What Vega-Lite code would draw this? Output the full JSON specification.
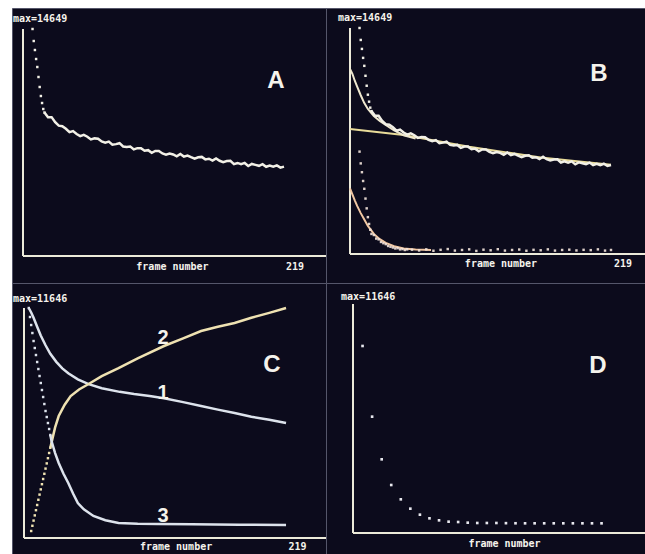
{
  "$schema": "https://vega.github.io/schema/vega-lite/v6.json",
  "background": "#ffffff",
  "padding": {"left": 11, "top": 7, "right": 0, "bottom": 0},
  "config": {
    "view": {"fill": "#0c0b1c", "stroke": "#55566a", "strokeWidth": 1}
  },
  "datasets": {
    "trace": [
      {"frame": 8, "value": 14649}, {"frame": 9, "value": 13874}, {"frame": 10, "value": 13293},
      {"frame": 11, "value": 12712}, {"frame": 12, "value": 12196}, {"frame": 13, "value": 11551},
      {"frame": 14, "value": 10906}, {"frame": 15, "value": 10325}, {"frame": 16, "value": 9873},
      {"frame": 17, "value": 9486}, {"frame": 18, "value": 9260}, {"frame": 21, "value": 8960},
      {"frame": 24, "value": 8960}, {"frame": 27, "value": 8630}, {"frame": 30, "value": 8410},
      {"frame": 33, "value": 8380}, {"frame": 36, "value": 8210}, {"frame": 39, "value": 7990},
      {"frame": 42, "value": 8060}, {"frame": 45, "value": 7870}, {"frame": 48, "value": 7740},
      {"frame": 51, "value": 7820}, {"frame": 54, "value": 7700}, {"frame": 57, "value": 7520},
      {"frame": 60, "value": 7590}, {"frame": 63, "value": 7570}, {"frame": 66, "value": 7390},
      {"frame": 69, "value": 7310}, {"frame": 72, "value": 7380}, {"frame": 75, "value": 7180},
      {"frame": 78, "value": 7220}, {"frame": 81, "value": 7280}, {"frame": 84, "value": 7070},
      {"frame": 87, "value": 7040}, {"frame": 90, "value": 7070}, {"frame": 93, "value": 6880},
      {"frame": 96, "value": 6960}, {"frame": 99, "value": 6960}, {"frame": 102, "value": 6790},
      {"frame": 105, "value": 6830}, {"frame": 108, "value": 6660}, {"frame": 111, "value": 6780},
      {"frame": 114, "value": 6780}, {"frame": 117, "value": 6620}, {"frame": 120, "value": 6540},
      {"frame": 123, "value": 6615}, {"frame": 126, "value": 6555}, {"frame": 129, "value": 6435},
      {"frame": 132, "value": 6585}, {"frame": 135, "value": 6415}, {"frame": 138, "value": 6485},
      {"frame": 141, "value": 6375}, {"frame": 144, "value": 6275}, {"frame": 147, "value": 6370},
      {"frame": 150, "value": 6395}, {"frame": 153, "value": 6235}, {"frame": 156, "value": 6275},
      {"frame": 159, "value": 6155}, {"frame": 162, "value": 6300}, {"frame": 165, "value": 6145},
      {"frame": 168, "value": 6060}, {"frame": 171, "value": 6125}, {"frame": 174, "value": 6140},
      {"frame": 177, "value": 5930}, {"frame": 180, "value": 6005}, {"frame": 183, "value": 5920},
      {"frame": 186, "value": 6005}, {"frame": 189, "value": 5810}, {"frame": 192, "value": 5940},
      {"frame": 195, "value": 5880}, {"frame": 198, "value": 5820}, {"frame": 201, "value": 5925},
      {"frame": 204, "value": 5760}, {"frame": 207, "value": 5840}, {"frame": 210, "value": 5765},
      {"frame": 213, "value": 5850}, {"frame": 216, "value": 5705}, {"frame": 219, "value": 5770}
    ],
    "slowFit": [
      {"frame": 0, "value": 8100}, {"frame": 45, "value": 7720}, {"frame": 100, "value": 6950},
      {"frame": 160, "value": 6250}, {"frame": 219, "value": 5790}
    ],
    "sumFit": [
      {"frame": 0, "value": 12000}, {"frame": 2, "value": 11680}, {"frame": 4, "value": 11230},
      {"frame": 6, "value": 10850}, {"frame": 9, "value": 10290}, {"frame": 12, "value": 9780},
      {"frame": 15, "value": 9400}, {"frame": 20, "value": 8950}, {"frame": 25, "value": 8630},
      {"frame": 30, "value": 8360}, {"frame": 37, "value": 8010}, {"frame": 45, "value": 7700},
      {"frame": 55, "value": 7480}
    ],
    "fastFit": [
      {"frame": 0, "value": 4250}, {"frame": 2, "value": 3870}, {"frame": 4, "value": 3480},
      {"frame": 6, "value": 3120}, {"frame": 9, "value": 2650}, {"frame": 12, "value": 2230},
      {"frame": 15, "value": 1820}, {"frame": 20, "value": 1300}, {"frame": 25, "value": 960},
      {"frame": 30, "value": 720}, {"frame": 37, "value": 500}, {"frame": 45, "value": 360},
      {"frame": 55, "value": 290}, {"frame": 68, "value": 260}
    ],
    "fastResidual": [
      {"frame": 8, "value": 6636}, {"frame": 9, "value": 5872}, {"frame": 10, "value": 5302},
      {"frame": 11, "value": 4732}, {"frame": 12, "value": 4226}, {"frame": 13, "value": 3592},
      {"frame": 14, "value": 2958}, {"frame": 15, "value": 2388}, {"frame": 16, "value": 1947},
      {"frame": 17, "value": 1571}, {"frame": 18, "value": 1300}, {"frame": 20, "value": 1230},
      {"frame": 22, "value": 1000}, {"frame": 24, "value": 950}, {"frame": 26, "value": 780},
      {"frame": 28, "value": 700}, {"frame": 30, "value": 640}, {"frame": 32, "value": 520},
      {"frame": 34, "value": 470}, {"frame": 36, "value": 420}, {"frame": 38, "value": 360},
      {"frame": 40, "value": 380}, {"frame": 42, "value": 300}, {"frame": 44, "value": 320},
      {"frame": 46, "value": 260}, {"frame": 48, "value": 300}, {"frame": 52, "value": 280},
      {"frame": 58, "value": 230}, {"frame": 64, "value": 300}, {"frame": 70, "value": 210},
      {"frame": 76, "value": 270}, {"frame": 82, "value": 320}, {"frame": 88, "value": 220},
      {"frame": 94, "value": 260}, {"frame": 100, "value": 300}, {"frame": 106, "value": 200},
      {"frame": 112, "value": 280}, {"frame": 118, "value": 240}, {"frame": 124, "value": 310},
      {"frame": 130, "value": 220}, {"frame": 136, "value": 260}, {"frame": 142, "value": 290},
      {"frame": 148, "value": 210}, {"frame": 154, "value": 270}, {"frame": 160, "value": 240},
      {"frame": 166, "value": 300}, {"frame": 172, "value": 220}, {"frame": 178, "value": 260},
      {"frame": 184, "value": 280}, {"frame": 190, "value": 230}, {"frame": 196, "value": 270},
      {"frame": 202, "value": 250}, {"frame": 208, "value": 300}, {"frame": 214, "value": 220},
      {"frame": 219, "value": 260}
    ],
    "curve1": [
      {"frame": 4, "value": 11646}, {"frame": 6, "value": 11420}, {"frame": 8, "value": 11150},
      {"frame": 11, "value": 10700}, {"frame": 14, "value": 10250}, {"frame": 18, "value": 9760},
      {"frame": 22, "value": 9330}, {"frame": 27, "value": 8920}, {"frame": 32, "value": 8590},
      {"frame": 37, "value": 8340}, {"frame": 45, "value": 8030}, {"frame": 54, "value": 7790},
      {"frame": 65, "value": 7580}, {"frame": 80, "value": 7400}, {"frame": 92, "value": 7290},
      {"frame": 105, "value": 7190}, {"frame": 117, "value": 7080}, {"frame": 133, "value": 6880},
      {"frame": 148, "value": 6680}, {"frame": 162, "value": 6500}, {"frame": 176, "value": 6330},
      {"frame": 190, "value": 6140}, {"frame": 205, "value": 5990}, {"frame": 219, "value": 5820}
    ],
    "curve2": [
      {"frame": 6, "value": 354}, {"frame": 7, "value": 618}, {"frame": 8, "value": 881},
      {"frame": 9, "value": 1144}, {"frame": 10, "value": 1408}, {"frame": 11, "value": 1671},
      {"frame": 12, "value": 1934}, {"frame": 13, "value": 2197}, {"frame": 14, "value": 2461},
      {"frame": 15, "value": 2724}, {"frame": 16, "value": 2987}, {"frame": 17, "value": 3250},
      {"frame": 18, "value": 3514}, {"frame": 19, "value": 3777}, {"frame": 20, "value": 4040},
      {"frame": 21, "value": 4304}, {"frame": 22, "value": 4567}, {"frame": 23, "value": 4830},
      {"frame": 26, "value": 5600}, {"frame": 29, "value": 6177}, {"frame": 34, "value": 6750},
      {"frame": 39, "value": 7189}, {"frame": 46, "value": 7520}, {"frame": 54, "value": 7797},
      {"frame": 65, "value": 8200}, {"frame": 79, "value": 8607}, {"frame": 95, "value": 9100},
      {"frame": 117, "value": 9721}, {"frame": 133, "value": 10110}, {"frame": 148, "value": 10480},
      {"frame": 162, "value": 10700}, {"frame": 176, "value": 10885}, {"frame": 190, "value": 11150},
      {"frame": 205, "value": 11400}, {"frame": 219, "value": 11646}
    ],
    "curve3": [
      {"frame": 4, "value": 11646}, {"frame": 5, "value": 11190}, {"frame": 6, "value": 10784},
      {"frame": 7, "value": 10379}, {"frame": 8, "value": 9974}, {"frame": 9, "value": 9620},
      {"frame": 10, "value": 9265}, {"frame": 11, "value": 8911}, {"frame": 12, "value": 8556},
      {"frame": 13, "value": 8202}, {"frame": 14, "value": 7848}, {"frame": 15, "value": 7493},
      {"frame": 16, "value": 7139}, {"frame": 17, "value": 6784}, {"frame": 18, "value": 6430},
      {"frame": 19, "value": 6126}, {"frame": 20, "value": 5822}, {"frame": 21, "value": 5519},
      {"frame": 22, "value": 5215}, {"frame": 23, "value": 4911}, {"frame": 26, "value": 4300},
      {"frame": 29, "value": 3797}, {"frame": 33, "value": 3250}, {"frame": 37, "value": 2785},
      {"frame": 41, "value": 2250}, {"frame": 45, "value": 1772}, {"frame": 50, "value": 1450},
      {"frame": 58, "value": 1114}, {"frame": 68, "value": 900}, {"frame": 79, "value": 759},
      {"frame": 95, "value": 720}, {"frame": 112, "value": 709}, {"frame": 140, "value": 690},
      {"frame": 180, "value": 670}, {"frame": 219, "value": 658}
    ],
    "sampled": [
      {"frame": 8, "value": 9511}, {"frame": 16, "value": 5917}, {"frame": 24, "value": 3747},
      {"frame": 32, "value": 2441}, {"frame": 40, "value": 1712}, {"frame": 48, "value": 1237},
      {"frame": 56, "value": 932}, {"frame": 64, "value": 746}, {"frame": 72, "value": 644},
      {"frame": 80, "value": 576}, {"frame": 88, "value": 559}, {"frame": 96, "value": 525},
      {"frame": 104, "value": 509}, {"frame": 112, "value": 509}, {"frame": 120, "value": 509},
      {"frame": 128, "value": 500}, {"frame": 136, "value": 495}, {"frame": 144, "value": 492},
      {"frame": 152, "value": 492}, {"frame": 160, "value": 492}, {"frame": 168, "value": 492},
      {"frame": 176, "value": 492}, {"frame": 184, "value": 492}, {"frame": 192, "value": 492},
      {"frame": 200, "value": 492}, {"frame": 208, "value": 492}
    ],
    "one": [{"n": 1}]
  },
  "columns": 2,
  "spacing": 0,
  "bounds": "flush",
  "concat": [
    {
      "width": 314,
      "height": 275,
      "layer": [
        {"data": {"name": "one"}, "mark": {"type": "rule", "color": "#ecead9", "strokeWidth": 2},
         "encoding": {"x": {"datum": 0, "type": "quantitative", "scale": {"domain": [-9.23, 254.24], "nice": false, "zero": false}, "axis": null},
                      "y": {"datum": 0, "type": "quantitative", "scale": {"domain": [-1742, 16004], "nice": false, "zero": false}, "axis": null},
                      "y2": {"datum": 14649}}},
        {"data": {"name": "one"}, "mark": {"type": "rule", "color": "#ecead9", "strokeWidth": 2},
         "encoding": {"x": {"datum": 0, "type": "quantitative", "axis": null}, "x2": {"datum": 254.24}, "y": {"datum": 0, "type": "quantitative", "axis": null}}},
        {"data": {"name": "trace"}, "transform": [{"filter": "datum.frame >= 18"}],
         "mark": {"type": "line", "color": "#f2f0e6", "strokeWidth": 2.5},
         "encoding": {"x": {"field": "frame", "type": "quantitative", "axis": null}, "y": {"field": "value", "type": "quantitative", "axis": null}}},
        {"data": {"name": "trace"}, "transform": [{"filter": "datum.frame <= 18"}],
         "mark": {"type": "point", "shape": "square", "filled": true, "size": 6, "opacity": 1, "color": "#f2f0e6"},
         "encoding": {"x": {"field": "frame", "type": "quantitative", "axis": null}, "y": {"field": "value", "type": "quantitative", "axis": null}}},
        {"data": {"name": "one"}, "mark": {"type": "text", "text": "max=14649", "font": "DejaVu Sans Mono", "fontWeight": "bold", "fontSize": 10, "color": "#f5f3ec", "align": "left", "baseline": "middle"},
         "encoding": {"x": {"datum": -8.4, "type": "quantitative", "axis": null}, "y": {"datum": 15294, "type": "quantitative", "axis": null}}},
        {"data": {"name": "one"}, "mark": {"type": "text", "text": "frame number", "font": "DejaVu Sans Mono", "fontWeight": "bold", "fontSize": 10, "color": "#f5f3ec", "align": "center", "baseline": "middle"},
         "encoding": {"x": {"datum": 125.4, "type": "quantitative", "axis": null}, "y": {"datum": -710, "type": "quantitative", "axis": null}}},
        {"data": {"name": "one"}, "mark": {"type": "text", "text": "219", "font": "DejaVu Sans Mono", "fontWeight": "bold", "fontSize": 10, "color": "#f5f3ec", "align": "center", "baseline": "middle"},
         "encoding": {"x": {"datum": 228.2, "type": "quantitative", "axis": null}, "y": {"datum": -710, "type": "quantitative", "axis": null}}},
        {"data": {"name": "one"}, "mark": {"type": "text", "text": "A", "font": "Liberation Sans", "fontWeight": "bold", "fontSize": 24, "color": "#f5f3ec", "align": "center", "baseline": "middle"},
         "encoding": {"x": {"datum": 212.3, "type": "quantitative", "axis": null}, "y": {"datum": 11293, "type": "quantitative", "axis": null}}}
      ]
    },
    {
      "width": 320,
      "height": 275,
      "layer": [
        {"data": {"name": "one"}, "mark": {"type": "rule", "color": "#ecead9", "strokeWidth": 2},
         "encoding": {"x": {"datum": 0, "type": "quantitative", "scale": {"domain": [-20.14, 248.37], "nice": false, "zero": false}, "axis": null},
                      "y": {"datum": 0, "type": "quantitative", "scale": {"domain": [-1880, 15945], "nice": false, "zero": false}, "axis": null},
                      "y2": {"datum": 14649}}},
        {"data": {"name": "one"}, "mark": {"type": "rule", "color": "#ecead9", "strokeWidth": 2},
         "encoding": {"x": {"datum": 0, "type": "quantitative", "axis": null}, "x2": {"datum": 248.37}, "y": {"datum": 0, "type": "quantitative", "axis": null}}},
        {"data": {"name": "slowFit"}, "mark": {"type": "line", "color": "#e9dc9a", "strokeWidth": 2},
         "encoding": {"x": {"field": "frame", "type": "quantitative", "axis": null}, "y": {"field": "value", "type": "quantitative", "axis": null}}},
        {"data": {"name": "fastFit"}, "mark": {"type": "line", "color": "#f1c7a2", "strokeWidth": 2},
         "encoding": {"x": {"field": "frame", "type": "quantitative", "axis": null}, "y": {"field": "value", "type": "quantitative", "axis": null}}},
        {"data": {"name": "sumFit"}, "mark": {"type": "line", "color": "#efe8cf", "strokeWidth": 2},
         "encoding": {"x": {"field": "frame", "type": "quantitative", "axis": null}, "y": {"field": "value", "type": "quantitative", "axis": null}}},
        {"data": {"name": "trace"}, "transform": [{"filter": "datum.frame >= 18"}],
         "mark": {"type": "line", "color": "#f2f0e6", "strokeWidth": 2.5},
         "encoding": {"x": {"field": "frame", "type": "quantitative", "axis": null}, "y": {"field": "value", "type": "quantitative", "axis": null}}},
        {"data": {"name": "trace"}, "transform": [{"filter": "datum.frame <= 18"}],
         "mark": {"type": "point", "shape": "square", "filled": true, "size": 6, "opacity": 1, "color": "#f2f0e6"},
         "encoding": {"x": {"field": "frame", "type": "quantitative", "axis": null}, "y": {"field": "value", "type": "quantitative", "axis": null}}},
        {"data": {"name": "fastResidual"},
         "mark": {"type": "point", "shape": "square", "filled": true, "size": 6, "opacity": 0.9, "color": "#f3e4dc"},
         "encoding": {"x": {"field": "frame", "type": "quantitative", "axis": null}, "y": {"field": "value", "type": "quantitative", "axis": null}}},
        {"data": {"name": "one"}, "mark": {"type": "text", "text": "max=14649", "font": "DejaVu Sans Mono", "fontWeight": "bold", "fontSize": 10, "color": "#f5f3ec", "align": "left", "baseline": "middle"},
         "encoding": {"x": {"datum": -10.07, "type": "quantitative", "axis": null}, "y": {"datum": 15297, "type": "quantitative", "axis": null}}},
        {"data": {"name": "one"}, "mark": {"type": "text", "text": "frame number", "font": "DejaVu Sans Mono", "fontWeight": "bold", "fontSize": 10, "color": "#f5f3ec", "align": "center", "baseline": "middle"},
         "encoding": {"x": {"datum": 126.7, "type": "quantitative", "axis": null}, "y": {"datum": -649, "type": "quantitative", "axis": null}}},
        {"data": {"name": "one"}, "mark": {"type": "text", "text": "219", "font": "DejaVu Sans Mono", "fontWeight": "bold", "fontSize": 10, "color": "#f5f3ec", "align": "center", "baseline": "middle"},
         "encoding": {"x": {"datum": 229.1, "type": "quantitative", "axis": null}, "y": {"datum": -649, "type": "quantitative", "axis": null}}},
        {"data": {"name": "one"}, "mark": {"type": "text", "text": "B", "font": "Liberation Sans", "fontWeight": "bold", "fontSize": 24, "color": "#f5f3ec", "align": "center", "baseline": "middle"},
         "encoding": {"x": {"datum": 208.9, "type": "quantitative", "axis": null}, "y": {"datum": 11667, "type": "quantitative", "axis": null}}}
      ]
    },
    {
      "width": 314,
      "height": 272,
      "layer": [
        {"data": {"name": "one"}, "mark": {"type": "rule", "color": "#ecead9", "strokeWidth": 2},
         "encoding": {"x": {"datum": 0, "type": "quantitative", "scale": {"domain": [-10.03, 252.4], "nice": false, "zero": false}, "axis": null},
                      "y": {"datum": 0, "type": "quantitative", "scale": {"domain": [-861, 12912], "nice": false, "zero": false}, "axis": null},
                      "y2": {"datum": 11646}}},
        {"data": {"name": "one"}, "mark": {"type": "rule", "color": "#ecead9", "strokeWidth": 2},
         "encoding": {"x": {"datum": 0, "type": "quantitative", "axis": null}, "x2": {"datum": 252.4}, "y": {"datum": 0, "type": "quantitative", "axis": null}}},
        {"data": {"name": "curve1"}, "mark": {"type": "line", "color": "#dde3ec", "strokeWidth": 2.5},
         "encoding": {"x": {"field": "frame", "type": "quantitative", "axis": null}, "y": {"field": "value", "type": "quantitative", "axis": null}}},
        {"data": {"name": "curve2"}, "transform": [{"filter": "datum.frame >= 22"}],
         "mark": {"type": "line", "color": "#efe2b2", "strokeWidth": 2.5},
         "encoding": {"x": {"field": "frame", "type": "quantitative", "axis": null}, "y": {"field": "value", "type": "quantitative", "axis": null}}},
        {"data": {"name": "curve2"}, "transform": [{"filter": "datum.frame <= 22"}],
         "mark": {"type": "point", "shape": "square", "filled": true, "size": 6, "opacity": 1, "color": "#efe2b2"},
         "encoding": {"x": {"field": "frame", "type": "quantitative", "axis": null}, "y": {"field": "value", "type": "quantitative", "axis": null}}},
        {"data": {"name": "curve3"}, "transform": [{"filter": "datum.frame >= 22"}],
         "mark": {"type": "line", "color": "#dde3ec", "strokeWidth": 2.5},
         "encoding": {"x": {"field": "frame", "type": "quantitative", "axis": null}, "y": {"field": "value", "type": "quantitative", "axis": null}}},
        {"data": {"name": "curve3"}, "transform": [{"filter": "datum.frame <= 22"}],
         "mark": {"type": "point", "shape": "square", "filled": true, "size": 6, "opacity": 1, "color": "#dde3ec"},
         "encoding": {"x": {"field": "frame", "type": "quantitative", "axis": null}, "y": {"field": "value", "type": "quantitative", "axis": null}}},
        {"data": {"name": "one"}, "mark": {"type": "text", "text": "max=11646", "font": "DejaVu Sans Mono", "fontWeight": "bold", "fontSize": 10, "color": "#f5f3ec", "align": "left", "baseline": "middle"},
         "encoding": {"x": {"datum": -9.2, "type": "quantitative", "axis": null}, "y": {"datum": 12102, "type": "quantitative", "axis": null}}},
        {"data": {"name": "one"}, "mark": {"type": "text", "text": "frame number", "font": "DejaVu Sans Mono", "fontWeight": "bold", "fontSize": 10, "color": "#f5f3ec", "align": "center", "baseline": "middle"},
         "encoding": {"x": {"datum": 127.1, "type": "quantitative", "axis": null}, "y": {"datum": -456, "type": "quantitative", "axis": null}}},
        {"data": {"name": "one"}, "mark": {"type": "text", "text": "219", "font": "DejaVu Sans Mono", "fontWeight": "bold", "fontSize": 10, "color": "#f5f3ec", "align": "center", "baseline": "middle"},
         "encoding": {"x": {"datum": 228.6, "type": "quantitative", "axis": null}, "y": {"datum": -456, "type": "quantitative", "axis": null}}},
        {"data": {"name": "one"}, "mark": {"type": "text", "text": "C", "font": "Liberation Sans", "fontWeight": "bold", "fontSize": 24, "color": "#f5f3ec", "align": "center", "baseline": "middle"},
         "encoding": {"x": {"datum": 207.3, "type": "quantitative", "axis": null}, "y": {"datum": 8760, "type": "quantitative", "axis": null}}},
        {"data": {"name": "one"}, "mark": {"type": "text", "text": "2", "font": "Liberation Sans", "fontWeight": "bold", "fontSize": 20, "color": "#f5f3ec", "align": "center", "baseline": "middle"},
         "encoding": {"x": {"datum": 116.2, "type": "quantitative", "axis": null}, "y": {"datum": 10127, "type": "quantitative", "axis": null}}},
        {"data": {"name": "one"}, "mark": {"type": "text", "text": "1", "font": "Liberation Sans", "fontWeight": "bold", "fontSize": 20, "color": "#f5f3ec", "align": "center", "baseline": "middle"},
         "encoding": {"x": {"datum": 116.2, "type": "quantitative", "axis": null}, "y": {"datum": 7342, "type": "quantitative", "axis": null}}},
        {"data": {"name": "one"}, "mark": {"type": "text", "text": "3", "font": "Liberation Sans", "fontWeight": "bold", "fontSize": 20, "color": "#f5f3ec", "align": "center", "baseline": "middle"},
         "encoding": {"x": {"datum": 116.2, "type": "quantitative", "axis": null}, "y": {"datum": 1114, "type": "quantitative", "axis": null}}}
      ]
    },
    {
      "width": 320,
      "height": 272,
      "layer": [
        {"data": {"name": "one"}, "mark": {"type": "rule", "color": "#ecead9", "strokeWidth": 2},
         "encoding": {"x": {"datum": 0, "type": "quantitative", "scale": {"domain": [-22.59, 245.2], "nice": false, "zero": false}, "axis": null},
                      "y": {"datum": 0, "type": "quantitative", "scale": {"domain": [-1119, 12714], "nice": false, "zero": false}, "axis": null},
                      "y2": {"datum": 11646}}},
        {"data": {"name": "one"}, "mark": {"type": "rule", "color": "#ecead9", "strokeWidth": 2},
         "encoding": {"x": {"datum": 0, "type": "quantitative", "axis": null}, "x2": {"datum": 245.2}, "y": {"datum": 0, "type": "quantitative", "axis": null}}},
        {"data": {"name": "sampled"},
         "mark": {"type": "point", "shape": "square", "filled": true, "size": 7, "opacity": 1, "color": "#e8e8ee"},
         "encoding": {"x": {"field": "frame", "type": "quantitative", "axis": null}, "y": {"field": "value", "type": "quantitative", "axis": null}}},
        {"data": {"name": "one"}, "mark": {"type": "text", "text": "max=11646", "font": "DejaVu Sans Mono", "fontWeight": "bold", "fontSize": 10, "color": "#f5f3ec", "align": "left", "baseline": "middle"},
         "encoding": {"x": {"datum": -10.0, "type": "quantitative", "axis": null}, "y": {"datum": 12002, "type": "quantitative", "axis": null}}},
        {"data": {"name": "one"}, "mark": {"type": "text", "text": "frame number", "font": "DejaVu Sans Mono", "fontWeight": "bold", "fontSize": 10, "color": "#f5f3ec", "align": "center", "baseline": "middle"},
         "encoding": {"x": {"datum": 126.8, "type": "quantitative", "axis": null}, "y": {"datum": -560, "type": "quantitative", "axis": null}}},
        {"data": {"name": "one"}, "mark": {"type": "text", "text": "D", "font": "Liberation Sans", "fontWeight": "bold", "fontSize": 24, "color": "#f5f3ec", "align": "center", "baseline": "middle"},
         "encoding": {"x": {"datum": 205, "type": "quantitative", "axis": null}, "y": {"datum": 8493, "type": "quantitative", "axis": null}}}
      ]
    }
  ]
}
